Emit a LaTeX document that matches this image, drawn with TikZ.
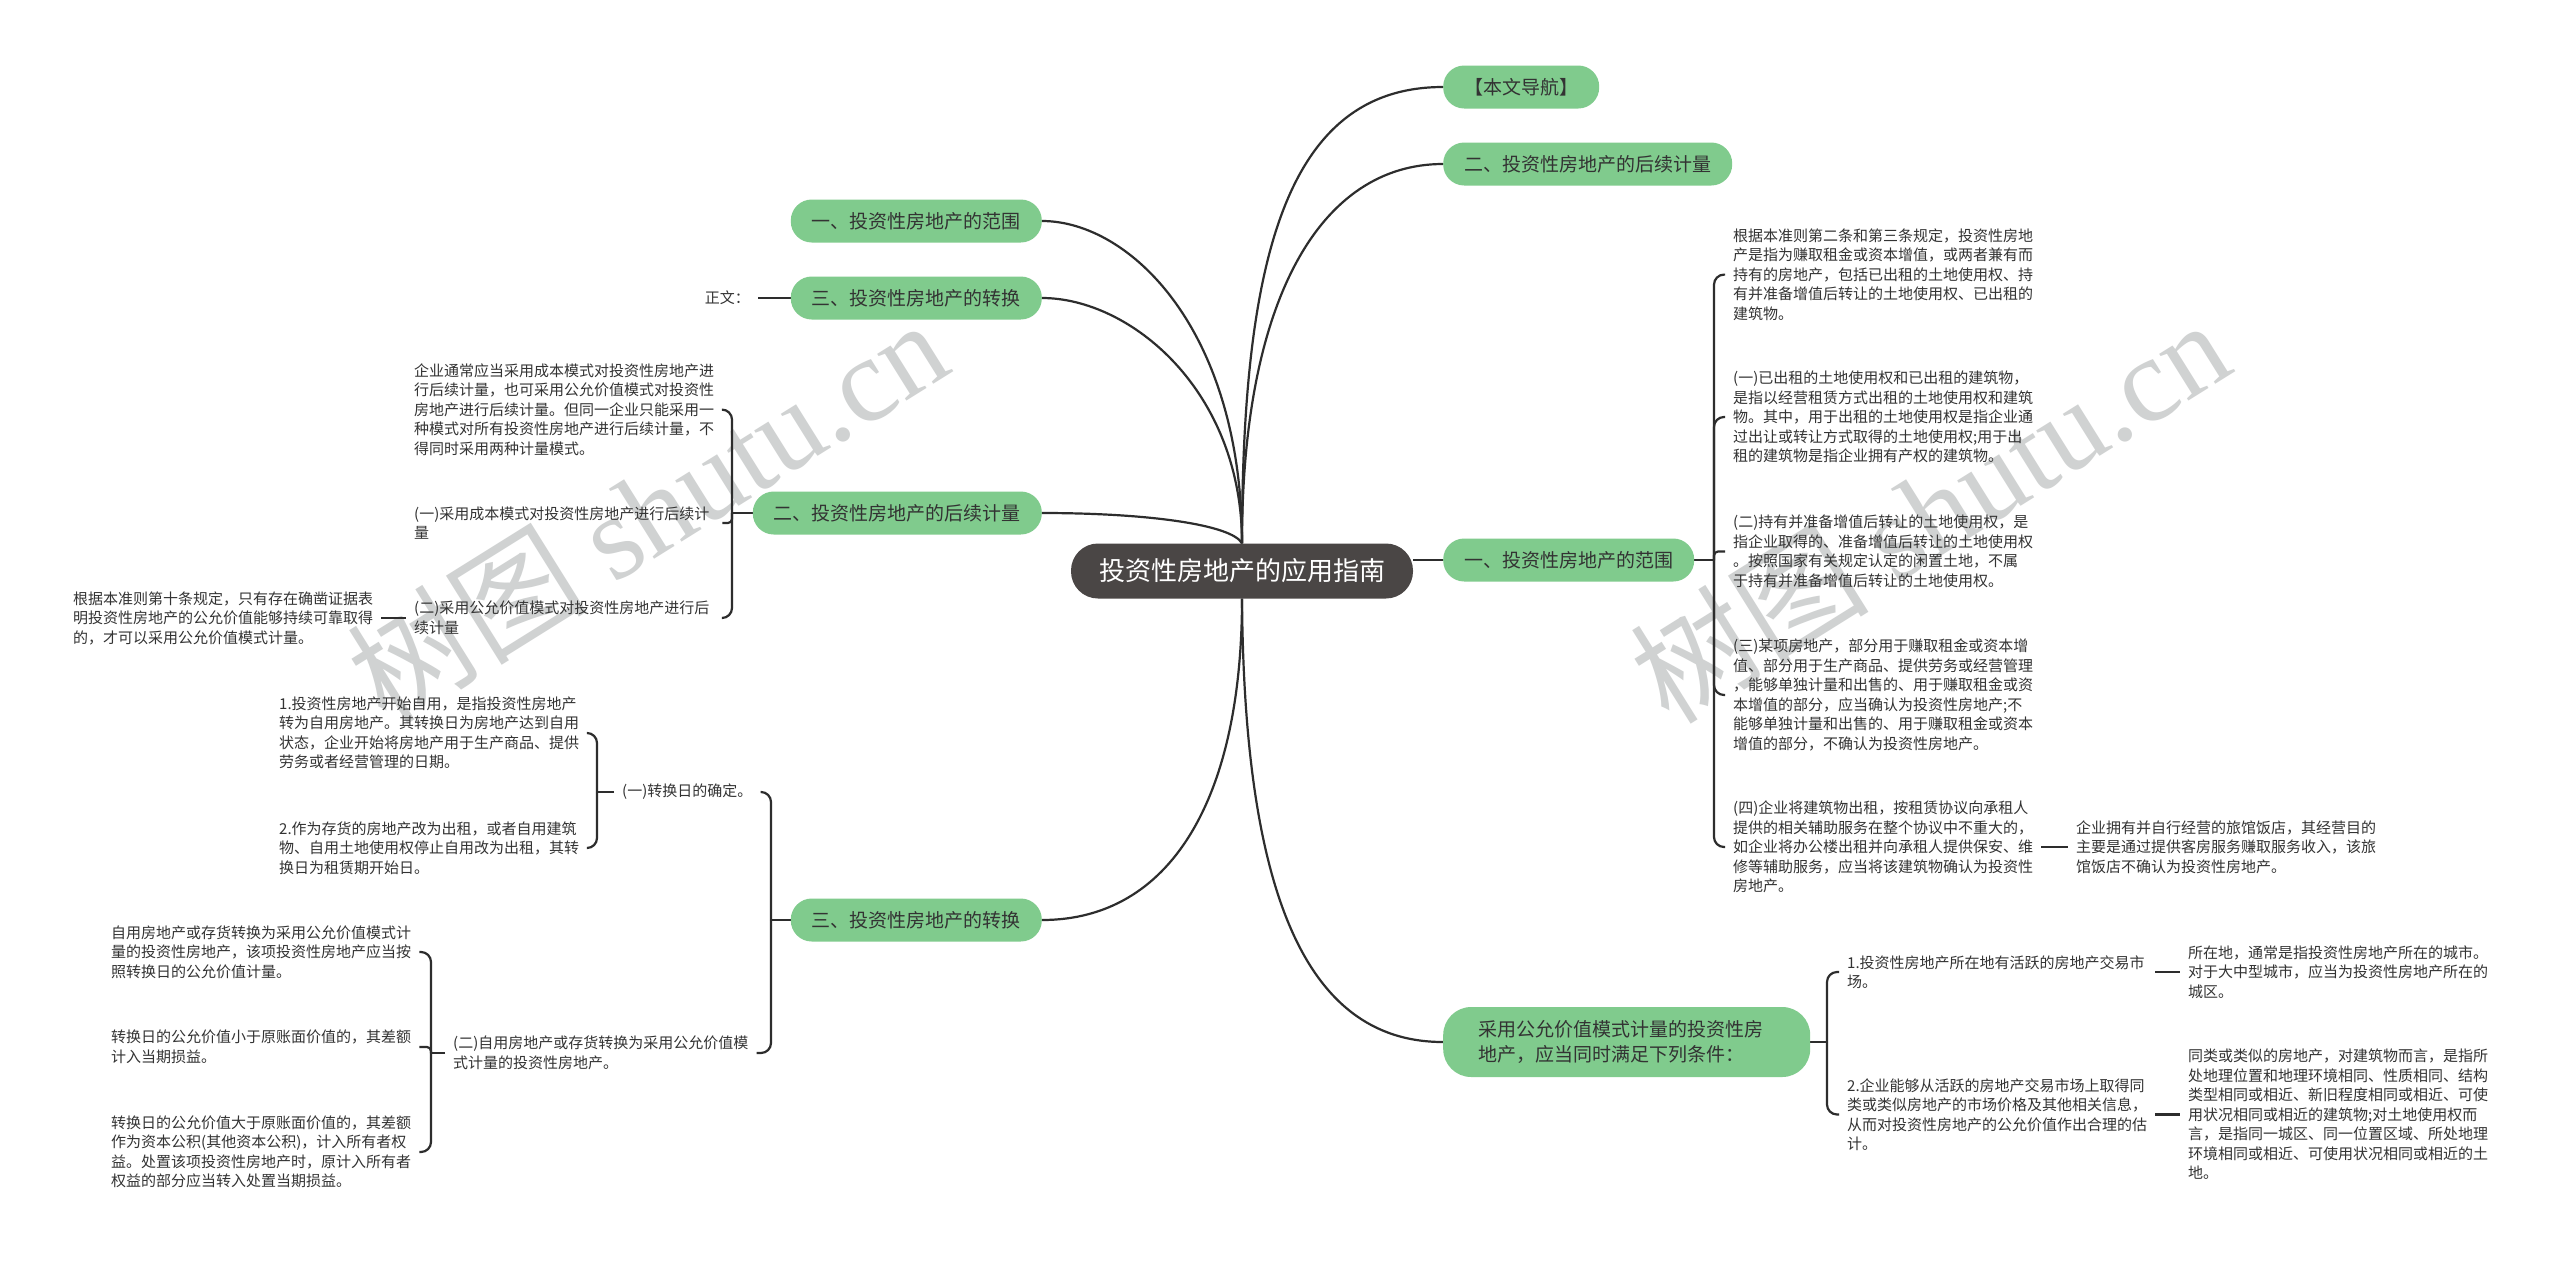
\documentclass[tikz,border=0pt]{standalone}
\usepackage{fontspec}
\setmainfont{Noto Sans CJK SC}
\newfontfamily\wmlatin{Liberation Serif}
\pgfdeclarelayer{background}
\pgfsetlayers{background,main}
\definecolor{gfill}{RGB}{128,203,141}
\definecolor{rootc}{RGB}{74,70,69}
\definecolor{txtc}{RGB}{51,51,51}
\definecolor{linec}{RGB}{45,45,45}
\definecolor{wmc}{RGB}{208,210,210}
\begin{document}
\begin{tikzpicture}[x=1pt,y=-1pt,
 conn/.style={draw=linec,line width=2.2pt},
 brk/.style={conn,rounded corners=10pt},
 brks/.style={conn,rounded corners=4pt},
 txt/.style={font=\fontsize{15}{19.5}\selectfont,text=txtc,align=left,inner xsep=8pt,inner ysep=0pt},
 tw/.style={text width=300pt},
 gnode/.style={fill=gfill,rounded corners=21pt,minimum height=43pt,inner xsep=21pt,inner ysep=0pt,font=\fontsize{19}{25}\selectfont,text=txtc},
 rootnode/.style={fill=rootc,rounded corners=27pt,minimum height=55pt,inner xsep=28pt,inner ysep=0pt,font=\fontsize{26}{30}\selectfont,text=white},
 wm/.style={text=wmc,rotate=32,inner sep=0pt,font=\fontsize{120}{125}\selectfont}]
\useasboundingbox (0,0) rectangle (2560,1262);
\begin{pgfonlayer}{background}
\fill[white] (0,0) rectangle (2560,1262);
% watermarks
\node[wm] (wm1) at (647,510) {树图 {\wmlatin shutu.cn}};
\node[wm] (wm2) at (1929,510) {树图 {\wmlatin shutu.cn}};
\end{pgfonlayer}

% main nodes
\node[rootnode] (root) at (1242,571) {投资性房地产的应用指南};
\node[gnode,anchor=west] (nav) at (1443,87) {【本文导航】};
\node[gnode,anchor=west] (R2) at (1443,164) {二、投资性房地产的后续计量};
\node[gnode,anchor=west] (R1) at (1443,560) {一、投资性房地产的范围};
\node[gnode,anchor=west,minimum height=70pt,rounded corners=28pt,inner xsep=35pt,text width=297pt,align=left] (R3) at (1443,1042) {采用公允价值模式计量的投资性房\\地产，应当同时满足下列条件：};
\node[gnode,anchor=east] (L1) at (1042,221) {一、投资性房地产的范围};
\node[gnode,anchor=east] (L3a) at (1042,298) {三、投资性房地产的转换};
\node[gnode,anchor=east] (L2) at (1042,513) {二、投资性房地产的后续计量};
\node[gnode,anchor=east] (L3b) at (1042,920) {三、投资性房地产的转换};

\node[txt,anchor=east] (zw) at (758,298) {正文：};

% right: scope children
\node[txt,tw,anchor=west] (A1) at (1725,274.6) {根据本准则第二条和第三条规定，投资性房地\\产是指为赚取租金或资本增值，或两者兼有而\\持有的房地产，包括已出租的土地使用权、持\\有并准备增值后转让的土地使用权、已出租的\\建筑物。};
\node[txt,tw,anchor=west] (A2) at (1725,417) {(一)已出租的土地使用权和已出租的建筑物，\\是指以经营租赁方式出租的土地使用权和建筑\\物。其中，用于出租的土地使用权是指企业通\\过出让或转让方式取得的土地使用权;用于出\\租的建筑物是指企业拥有产权的建筑物。};
\node[txt,tw,anchor=west] (A3) at (1725,551.5) {(二)持有并准备增值后转让的土地使用权，是\\指企业取得的、准备增值后转让的土地使用权\\。按照国家有关规定认定的闲置土地，不属\\于持有并准备增值后转让的土地使用权。};
\node[txt,tw,anchor=west] (A4) at (1725,695) {(三)某项房地产，部分用于赚取租金或资本增\\值、部分用于生产商品、提供劳务或经营管理\\，能够单独计量和出售的、用于赚取租金或资\\本增值的部分，应当确认为投资性房地产;不\\能够单独计量和出售的、用于赚取租金或资本\\增值的部分，不确认为投资性房地产。};
\node[txt,tw,anchor=west] (A5) at (1725,847) {(四)企业将建筑物出租，按租赁协议向承租人\\提供的相关辅助服务在整个协议中不重大的，\\如企业将办公楼出租并向承租人提供保安、维\\修等辅助服务，应当将该建筑物确认为投资性\\房地产。};
\node[txt,tw,anchor=west] (A5c) at (2068,847) {企业拥有并自行经营的旅馆饭店，其经营目的\\主要是通过提供客房服务赚取服务收入，该旅\\馆饭店不确认为投资性房地产。};

% right: fair value conditions
\node[txt,tw,anchor=west] (B1) at (1839,972) {1.投资性房地产所在地有活跃的房地产交易市\\场。};
\node[txt,tw,anchor=west] (B1c) at (2180,972) {所在地，通常是指投资性房地产所在的城市。\\对于大中型城市，应当为投资性房地产所在的\\城区。};
\node[txt,tw,anchor=west] (B2) at (1839,1114.5) {2.企业能够从活跃的房地产交易市场上取得同\\类或类似房地产的市场价格及其他相关信息，\\从而对投资性房地产的公允价值作出合理的估\\计。};
\node[txt,tw,anchor=west] (B2c) at (2180,1114.5) {同类或类似的房地产，对建筑物而言，是指所\\处地理位置和地理环境相同、性质相同、结构\\类型相同或相近、新旧程度相同或相近、可使\\用状况相同或相近的建筑物;对土地使用权而\\言，是指同一城区、同一位置区域、所处地理\\环境相同或相近、可使用状况相同或相近的土\\地。};

% left: subsequent measurement
\node[txt,tw,anchor=west] (C1) at (406,409.6) {企业通常应当采用成本模式对投资性房地产进\\行后续计量，也可采用公允价值模式对投资性\\房地产进行后续计量。但同一企业只能采用一\\种模式对所有投资性房地产进行后续计量，不\\得同时采用两种计量模式。};
\node[txt,tw,anchor=west] (C2) at (406,523) {(一)采用成本模式对投资性房地产进行后续计\\量};
\node[txt,tw,anchor=west] (C3) at (406,618) {(二)采用公允价值模式对投资性房地产进行后\\续计量};
\node[txt,tw,anchor=west] (C3c) at (65,618) {根据本准则第十条规定，只有存在确凿证据表\\明投资性房地产的公允价值能够持续可靠取得\\的，才可以采用公允价值模式计量。};

% left: conversion
\node[txt,anchor=west] (D1) at (614,792) {(一)转换日的确定。};
\node[txt,tw,anchor=west] (D1a) at (271,733) {1.投资性房地产开始自用，是指投资性房地产\\转为自用房地产。其转换日为房地产达到自用\\状态，企业开始将房地产用于生产商品、提供\\劳务或者经营管理的日期。};
\node[txt,tw,anchor=west] (D1b) at (271,848) {2.作为存货的房地产改为出租，或者自用建筑\\物、自用土地使用权停止自用改为出租，其转\\换日为租赁期开始日。};
\node[txt,anchor=west] (D2) at (445,1053) {(二)自用房地产或存货转换为采用公允价值模\\式计量的投资性房地产。};
\node[txt,tw,anchor=west] (D2a) at (103,952) {自用房地产或存货转换为采用公允价值模式计\\量的投资性房地产，该项投资性房地产应当按\\照转换日的公允价值计量。};
\node[txt,tw,anchor=west] (D2b) at (103,1047) {转换日的公允价值小于原账面价值的，其差额\\计入当期损益。};
\node[txt,tw,anchor=west] (D2c) at (103,1152) {转换日的公允价值大于原账面价值的，其差额\\作为资本公积(其他资本公积)，计入所有者权\\益。处置该项投资性房地产时，原计入所有者\\权益的部分应当转入处置当期损益。};

% bracket spine coordinates
\coordinate (bR1) at (1714,560);
\coordinate (bR3) at (1827,1042);
\coordinate (bL2) at (732,513);
\coordinate (bL3b) at (771,920);
\coordinate (bD1) at (597,792);
\coordinate (bD2) at (431,1053);

\begin{pgfonlayer}{background}
% root branches
\draw[conn] (root.north) .. controls (1242,250) and (1290,87) .. (nav.west);
\draw[conn] (root.north) .. controls (1242,300) and (1320,164) .. (R2.west);
\draw[conn] (root.north) .. controls (1242,330) and (1130,221) .. (L1.east);
\draw[conn] (root.north) .. controls (1242,390) and (1130,298) .. (L3a.east);
\draw[conn] (root.north) .. controls (1232,525) and (1150,513) .. (L2.east);
\draw[conn] (root.south) .. controls (1242,800) and (1170,920) .. (L3b.east);
\draw[conn] (root.south) .. controls (1244,880) and (1300,1042) .. (R3.west);
\draw[conn] (root.east |- R1.west) -- (R1.west);
% brackets
\draw[conn] (R1.east) -- (bR1);
\draw[brk] (bR1) |- (A1.west);
\draw[brk] (bR1) |- (A2.west);
\draw[brks] (bR1) |- (A3.west);
\draw[brk] (bR1) |- (A4.west);
\draw[brk] (bR1) |- (A5.west);
\draw[conn] (A5.east) -- (A5c.west);
\draw[conn] (R3.east) -- (bR3);
\draw[brk] (bR3) |- (B1.west);
\draw[brk] (bR3) |- (B2.west);
\draw[conn] (B1.east) -- (B1c.west);
\draw[conn] (B2.east) -- (B2c.west);
\draw[conn] (L2.west) -- (bL2);
\draw[brk] (bL2) |- (C1.east);
\draw[brks] (bL2) |- (C2.east);
\draw[brk] (bL2) |- (C3.east);
\draw[conn] (C3c.east) -- (C3.west);
\draw[conn] (L3b.west) -- (bL3b);
\draw[brk] (bL3b) |- (D1.east);
\draw[brk] (bL3b) |- (D2.east);
\draw[conn] (D1.west) -- (bD1);
\draw[brk] (bD1) |- (D1a.east);
\draw[brk] (bD1) |- (D1b.east);
\draw[conn] (D2.west) -- (bD2);
\draw[brk] (bD2) |- (D2a.east);
\draw[brks] (bD2) |- (D2b.east);
\draw[brk] (bD2) |- (D2c.east);
\draw[conn] (zw.east) -- (L3a.west);
\end{pgfonlayer}
\end{tikzpicture}
\end{document}
